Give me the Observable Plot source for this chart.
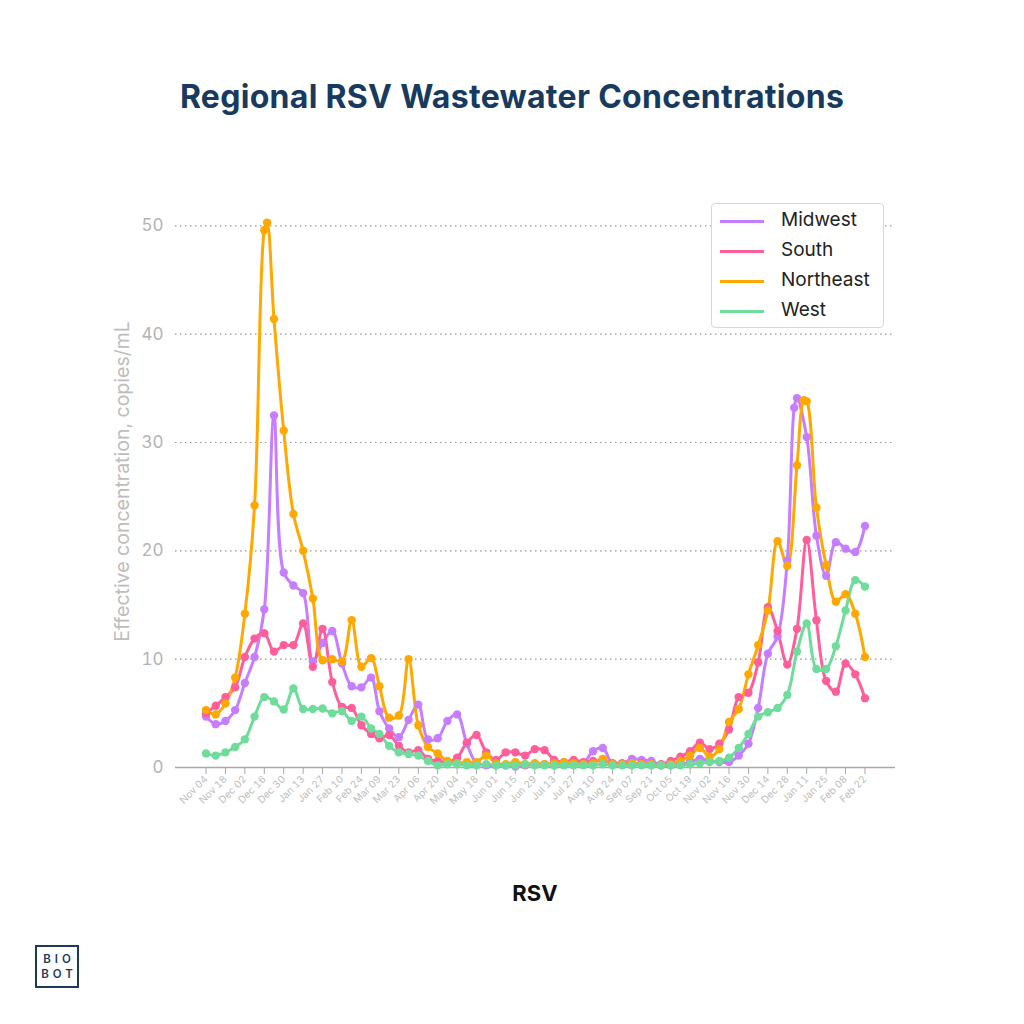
<!DOCTYPE html>
<html>
<head>
<meta charset="utf-8">
<script src="https://cdn.jsdelivr.net/npm/d3@7"></script>
<script src="https://cdn.jsdelivr.net/npm/@observablehq/plot@0.6"></script>
<style>
  body { margin: 0; background: #fff; font-family: Inter, "Noto Sans", sans-serif; }
  #page { position: relative; width: 1024px; height: 1024px; overflow: hidden; background: #fff; }
  #title { position: absolute; top: 77px; left: 0; width: 1024px; text-align: center; font-size: 32px; font-weight: 700; color: #173a5e; letter-spacing: 0.3px; }
  #chart { position: absolute; left: 0; top: 170px; }
  #legend { position: absolute; left: 711px; top: 203px; width: 171px; height: 123px; border: 1.5px solid #d8d8d8; border-radius: 4px; background: #fff; }
  .item { position: absolute; left: 0; height: 30px; width: 171px; }
  .sw { position: absolute; left: 8px; top: 14px; width: 44px; height: 3px; }
  .lb { position: absolute; left: 69px; top: 2px; font-size: 19px; color: #222; }
  #xlabel { position: absolute; top: 880px; left: 435px; width: 200px; text-align: center; font-size: 22px; font-weight: 700; color: #111; }
  #logo { position: absolute; left: 35px; top: 945px; width: 44px; height: 43px; border: 2px solid #1b3a5c; color: #1b3a5c; font-size: 11.5px; font-weight: 600; text-align: center; line-height: 15px; padding-top: 5px; padding-left: 4px; box-sizing: border-box; letter-spacing: 4px; }
</style>
</head>
<body>
<div id="page">
  <div id="title">Regional RSV Wastewater Concentrations</div>
  <div id="chart"></div>
  <div id="legend"></div>
  <div id="xlabel">RSV</div>
  <div id="logo">BIO<br>BOT</div>
</div>
<script>
const dates = [
  "2022-11-04","2022-11-11","2022-11-18","2022-11-25","2022-12-02","2022-12-09","2022-12-16","2022-12-23","2022-12-30",
  "2023-01-06","2023-01-13","2023-01-20","2023-01-27","2023-02-03","2023-02-10","2023-02-17","2023-02-24","2023-03-03",
  "2023-03-09","2023-03-16","2023-03-23","2023-03-30","2023-04-06","2023-04-13","2023-04-20","2023-04-27","2023-05-04",
  "2023-05-11","2023-05-18","2023-05-25","2023-06-01","2023-06-08","2023-06-15","2023-06-22","2023-06-29","2023-07-06",
  "2023-07-13","2023-07-20","2023-07-27","2023-08-03","2023-08-10","2023-08-17","2023-08-24","2023-08-31","2023-09-07",
  "2023-09-14","2023-09-21","2023-09-28","2023-10-05","2023-10-12","2023-10-19","2023-10-26","2023-11-02","2023-11-09",
  "2023-11-16","2023-11-23","2023-11-30","2023-12-07","2023-12-14","2023-12-21","2023-12-28","2024-01-04","2024-01-11",
  "2024-01-18","2024-01-25","2024-02-01","2024-02-08","2024-02-15","2024-02-22"
];
const tickDates = ["2022-11-04","2022-11-18","2022-12-02","2022-12-16","2022-12-30","2023-01-13","2023-01-27","2023-02-10",
  "2023-02-24","2023-03-09","2023-03-23","2023-04-06","2023-04-20","2023-05-04","2023-05-18","2023-06-01","2023-06-15",
  "2023-06-29","2023-07-13","2023-07-27","2023-08-10","2023-08-24","2023-09-07","2023-09-21","2023-10-05","2023-10-19",
  "2023-11-02","2023-11-16","2023-11-30","2023-12-14","2023-12-28","2024-01-11","2024-01-25","2024-02-08","2024-02-22"];
const yTicks = [0, 10, 20, 30, 40, 50];
const regions = ["Midwest", "South", "Northeast", "West"];
const colors = ["#c77dff", "#ff5e9b", "#ffa800", "#6edc9b"];

const midwest = [4.7,4.0,4.3,5.3,7.8,10.2,14.6,32.5,18.0,16.8,16.1,9.8,11.5,12.6,9.6,7.5,7.4,8.3,5.2,3.6,2.8,4.4,5.8,2.6,2.7,4.3,4.9,
  2.2,0.4,0.2,0.2,0.2,0.1,0.2,0.3,0.3,0.2,0.3,0.3,0.4,1.5,1.8,0.3,0.3,0.8,0.7,0.6,0.2,0.2,0.3,0.5,0.8,0.6,0.5,0.5,1.1,2.2,5.5,10.5,
  12.1,19.1,34.1,30.5,21.4,17.7,20.8,20.2,19.9,22.3];
const south = [5.0,5.7,6.5,7.4,10.2,11.9,12.4,10.7,11.3,11.3,13.3,9.3,12.8,7.9,5.6,5.5,3.9,3.1,2.7,3.0,2.0,1.4,1.6,0.8,0.6,0.5,0.9,
  2.3,3.0,1.4,0.7,1.4,1.4,1.1,1.7,1.6,0.7,0.5,0.7,0.5,0.6,0.6,0.4,0.4,0.3,0.4,0.3,0.3,0.6,1.0,1.5,2.3,1.7,2.2,3.5,6.5,6.9,9.7,14.8,
  12.6,9.5,12.8,21.0,13.6,8.0,7.0,9.6,8.6,6.4];
const northeast = [5.3,4.9,5.9,8.3,14.2,24.2,49.6,41.4,31.1,23.4,20.0,15.6,9.9,10.0,9.8,13.6,9.3,10.1,7.5,4.6,4.8,10.0,3.9,1.9,1.3,0.6,0.4,
  0.5,0.5,1.1,0.4,0.3,0.5,0.3,0.4,0.3,0.4,0.5,0.4,0.3,0.4,0.8,0.3,0.3,0.4,0.3,0.3,0.2,0.3,0.6,1.1,1.8,1.0,1.7,4.2,5.4,8.6,11.3,14.5,
  20.9,18.6,27.9,33.8,24.0,18.7,15.3,16.0,14.2,10.2];
const west = [1.3,1.1,1.4,1.9,2.6,4.7,6.5,6.1,5.35,7.3,5.4,5.4,5.45,5.0,5.2,4.3,4.7,3.6,3.1,2.0,1.4,1.25,1.1,0.6,0.2,0.3,0.3,
  0.2,0.2,0.3,0.2,0.2,0.2,0.3,0.2,0.2,0.2,0.2,0.2,0.2,0.2,0.3,0.2,0.2,0.2,0.2,0.2,0.2,0.2,0.2,0.3,0.4,0.5,0.6,0.9,1.8,3.1,4.7,5.1,
  5.5,6.7,10.7,13.3,9.1,9.1,11.2,14.5,17.3,16.7];
// occasional extra samples between the weekly ones
const extraRegion = ["Northeast", "Midwest", "Northeast"];
const extraDate = ["2022-12-18", "2024-01-02", "2024-01-09"];
const extraValue = [50.3, 33.2, 33.9];

const parse = d3.utcParse("%Y-%m-%d");
const series = [midwest, south, northeast, west];
const rows = [];
regions.forEach((r, k) => series[k].forEach((v, i) => rows.push({region: r, date: parse(dates[i]), value: v})));
extraRegion.forEach((r, i) => rows.push({region: r, date: parse(extraDate[i]), value: extraValue[i]}));
const data = d3.sort(rows, d => regions.indexOf(d.region), d => d.date);

const chart = Plot.plot({
  width: 1024,
  height: 680,
  marginLeft: 175,
  marginRight: 129,
  marginTop: 25,
  marginBottom: 83,
  style: {fontFamily: "Inter, 'Noto Sans', sans-serif", background: "transparent", overflow: "visible"},
  x: {type: "utc", domain: [parse("2022-10-13"), parse("2024-03-15")]},
  y: {domain: [0, 52.8]},
  color: {domain: regions, range: colors},
  marks: [
    Plot.gridY(yTicks.filter(t => t > 0), {stroke: "#8a8a8a", strokeOpacity: 0.9, strokeDasharray: "1.5,3.5", strokeWidth: 1.2}),
    Plot.ruleY([0], {stroke: "#a8a8a8", strokeWidth: 1.5}),
    Plot.axisY({ticks: yTicks, tickSize: 0, tickPadding: 12, fontSize: 17, fill: "#b3b3b3", label: null}),
    Plot.axisY({ticks: [], tickSize: 0, fontSize: 19.5, fill: "#bdbdbd",
      label: "Effective concentration, copies/mL", labelAnchor: "center", labelArrow: "none", labelOffset: 60}),
    Plot.axisX({ticks: tickDates.map(parse), tickFormat: d3.utcFormat("%b %d"), tickRotate: -45, fontSize: 10,
      fill: "#bdbdbd", stroke: "#a8a8a8", tickSize: 7, tickPadding: 3, label: null}),
    Plot.line(data, {x: "date", y: "value", z: "region", stroke: "region", strokeWidth: 3, curve: "catmull-rom"}),
    Plot.dot(data, {x: "date", y: "value", fill: "region", r: 4.2})
  ]
});
document.getElementById("chart").appendChild(chart);

const legend = document.getElementById("legend");
regions.forEach((r, i) => {
  const it = document.createElement("div");
  it.className = "item";
  it.style.top = (2 + i * 30) + "px";
  it.innerHTML = `<div class="sw" style="background:${colors[i]}"></div><div class="lb">${r}</div>`;
  legend.appendChild(it);
});
</script>
</body>
</html>
